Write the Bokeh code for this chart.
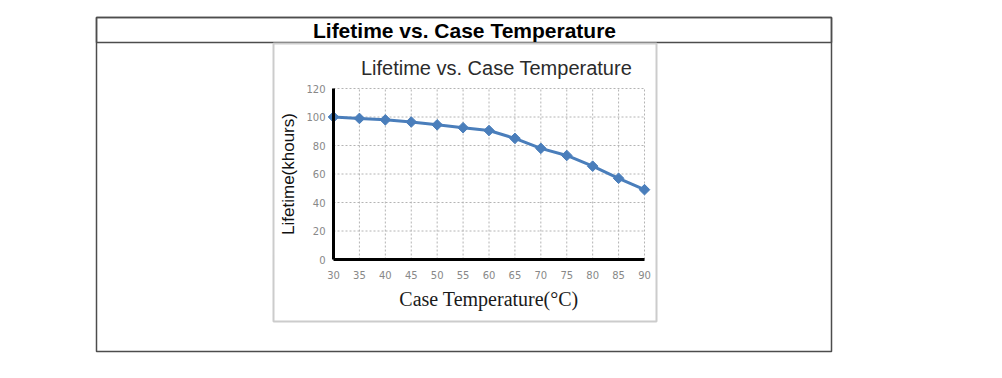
import math
from bokeh.plotting import figure
from bokeh.models import BoxAnnotation, Label, FixedTicker, Range1d
from bokeh.embed import file_html
from bokeh.resources import INLINE

# ---- data ----
temperature = [30, 35, 40, 45, 50, 55, 60, 65, 70, 75, 80, 85, 90]
lifetime_khours = [100, 99, 98, 96.5, 94.5, 92.5, 90.5, 85, 78, 73, 65.5, 57, 49]
x_ticks = [30, 35, 40, 45, 50, 55, 60, 65, 70, 75, 80, 85, 90]
y_ticks = [0, 20, 40, 60, 80, 100, 120]
outer_title = "Lifetime vs. Case Temperature"
inner_title = "Lifetime vs. Case Temperature"
x_label = "Case Temperature(\u00b0C)"
y_label = "Lifetime(khours)"

# ---- layout (pixels) ----
W, H = 1000, 376
PX_L, PX_R, PY_T, PY_B = 333, 644, 88, 259   # plot area on the page
X0, X1, Y0, Y1 = 30, 90, 0, 120               # data limits of plot area
sx = (X1 - X0) / (PX_R - PX_L)
sy = (Y1 - Y0) / (PY_B - PY_T)

p = figure(width=W, height=H, output_backend="svg", toolbar_location=None,
           x_range=Range1d(X0 - PX_L * sx, X0 + (W - PX_L) * sx),
           y_range=Range1d(Y0 - (H - PY_B) * sy, Y0 + PY_B * sy),
           min_border=0)
p.outline_line_color = None
p.background_fill_color = "white"
p.border_fill_color = "white"
p.xgrid.visible = False
p.ygrid.visible = False

# dashed grid inside the plot area, from the tick lists
p.segment(x0=x_ticks, y0=[Y0] * len(x_ticks), x1=x_ticks, y1=[Y1] * len(x_ticks),
          line_color="#b4b4b4", line_dash="2 2", line_width=1)
p.segment(x0=[X0] * len(y_ticks), y0=y_ticks, x1=[X1] * len(y_ticks), y1=y_ticks,
          line_color="#b4b4b4", line_dash="2 2", line_width=1)

# axes fixed at the plot-area edges
p.xaxis.fixed_location = Y0
p.xaxis.bounds = (X0, X1)
p.yaxis.fixed_location = X0
p.yaxis.bounds = (Y0, Y1)
for ax in (p.xaxis, p.yaxis):
    ax.axis_line_color = "black"
    ax.axis_line_width = 3
    ax.major_tick_line_color = None
    ax.minor_tick_line_color = None
    ax.major_tick_out = 0
    ax.major_tick_in = 0
    ax.minor_tick_out = 0
    ax.major_label_text_font = "DejaVu Sans"
    ax.major_label_text_font_size = "10px"
    ax.major_label_text_color = "#888888"
p.xaxis.ticker = FixedTicker(ticks=x_ticks)
p.yaxis.ticker = FixedTicker(ticks=y_ticks)
p.xaxis.major_label_standoff = 11
p.yaxis.major_label_standoff = 8

p.xaxis.axis_label = x_label
p.xaxis.axis_label_text_font = "Liberation Serif"
p.xaxis.axis_label_text_font_style = "normal"
p.xaxis.axis_label_text_font_size = "20px"
p.xaxis.axis_label_text_color = "#1a1a1a"
p.xaxis.axis_label_standoff = 6

p.yaxis.axis_label = y_label
p.yaxis.axis_label_text_font = "Liberation Sans"
p.yaxis.axis_label_text_font_style = "normal"
p.yaxis.axis_label_text_font_size = "17px"
p.yaxis.axis_label_text_color = "#111111"
p.yaxis.axis_label_standoff = 5

# data
p.line(temperature, lifetime_khours, line_color="#4A7EBB", line_width=3)
p.scatter(temperature, lifetime_khours, marker="square", size=7.5,
          angle=math.pi / 4, fill_color="#4A7EBB", line_color="#4A7EBB")

# frames (screen units, y measured from bottom of canvas)
def box(l, r, t, b, color, w):
    p.add_layout(BoxAnnotation(left=l, right=r, top=H - t, bottom=H - b,
                               left_units="screen", right_units="screen",
                               top_units="screen", bottom_units="screen",
                               fill_alpha=0, line_color=color, line_alpha=1.0,
                               line_width=w))

box(96, 831, 17, 351, "#4d4d4d", 1.5)
box(96, 831, 17, 42, "#4d4d4d", 1.5)
box(273, 656, 43, 321, "#cccccc", 2)

p.add_layout(Label(x=464, y=H - 30, x_units="screen", y_units="screen",
                   text=outer_title, text_font="Liberation Sans",
                   text_font_style="bold", text_font_size="21px",
                   text_color="black", text_align="center",
                   text_baseline="middle"))
p.add_layout(Label(x=496, y=H - 67, x_units="screen", y_units="screen",
                   text=inner_title, text_font="Liberation Sans",
                   text_font_size="20px", text_color="#2b2b2b",
                   text_align="center", text_baseline="middle"))

open("out.html", "w").write(file_html(p, INLINE))
